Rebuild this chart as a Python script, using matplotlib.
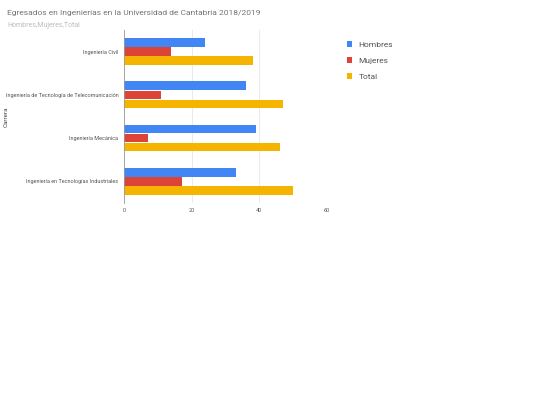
import matplotlib
matplotlib.use("Agg")
import matplotlib.pyplot as plt
import numpy as np

categories = ["Ingeniería Civil", "Ingeniería de Tecnología de Telecomunicación",
              "Ingeniería Mecánica", "Ingeniería en Tecnologías Industriales"]
hombres = [24, 36, 39, 33]
mujeres = [14, 11, 7, 17]
total = [38, 47, 46, 50]
series = [("Hombres", hombres, "#4285f4"), ("Mujeres", mujeres, "#db4437"), ("Total", total, "#f4b400")]

plt.rcParams['font.family'] = ['Roboto', 'DejaVu Sans']
fig = plt.figure(figsize=(5.4, 4.05), dpi=100)
ax = fig.add_axes([0.2296, 0.499, 0.376, 0.427])
y = np.arange(len(categories))
h = 0.21
for i, (name, vals, c) in enumerate(series):
    ax.barh(y + (i - 1) * h, vals, height=h * 0.95, color=c, label=name, zorder=2)
ax.set_ylim(3.5, -0.5)
ax.set_xlim(0, 60)
ax.set_xticks([0, 20, 40, 60])
ax.set_yticks(y)
ax.set_yticklabels(categories)
ax.tick_params(axis='both', length=0, labelsize=4, labelcolor="#555555", pad=4)
ax.grid(axis='x', color="#e6e6e6", linewidth=0.6, zorder=0)
for s in ["top", "right", "bottom"]:
    ax.spines[s].set_visible(False)
ax.spines["left"].set_color("#999999")
ax.spines["left"].set_linewidth(0.6)
ax.set_ylabel("Carrera", fontsize=4.5, color="#444444")
ax.yaxis.set_label_coords(-0.57, 0.5)
fig.text(0.013, 0.975, "Egresados en Ingenierías en la Universidad de Cantabria 2018/2019",
         fontsize=6, color="#757575", va="top")
fig.text(0.013, 0.945, "Hombres,Mujeres,Total", fontsize=5, color="#bdbdbd", va="top")
leg = ax.legend(loc="upper left", bbox_to_anchor=(1.06, 0.98), frameon=False, fontsize=6,
                handlelength=0.6, handleheight=0.7, labelspacing=1.1, labelcolor="#555555")
fig.savefig("out.png", dpi=100)
